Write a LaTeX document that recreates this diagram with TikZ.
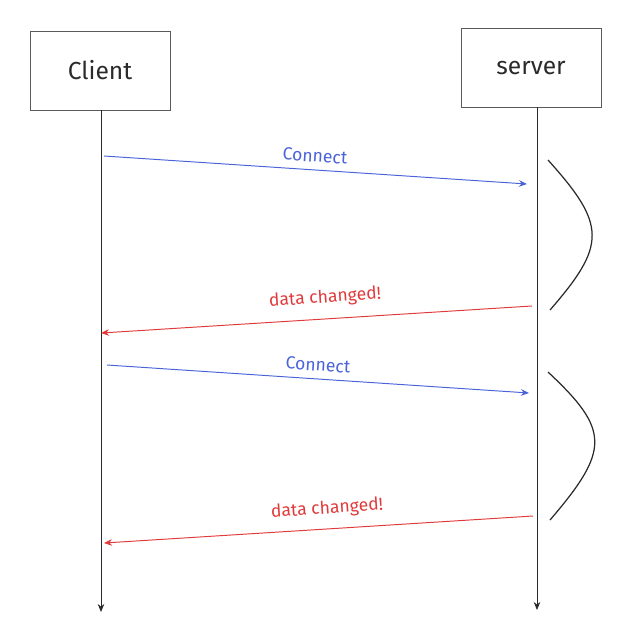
\documentclass[tikz,border=0pt]{standalone}
\usepackage{fontspec}
\setmainfont{Fira Sans}
\usepackage{xcolor}
\usetikzlibrary{arrows.meta,positioning,calc}
\definecolor{ink}{HTML}{2A2A2A}
\definecolor{boxline}{HTML}{5A5A5A}
\definecolor{reqblue}{HTML}{4A63D8}
\definecolor{resred}{HTML}{E03A3A}
\tikzset{
  actorbox/.style={draw=boxline, line width=0.5pt, minimum width=2.8cm, minimum height=1.58cm, font=\fontsize{14}{16}\selectfont, text=ink},
  lifeline/.style={-{Stealth[length=1.6mm,width=1.3mm]}, draw=ink, line width=0.45pt},
  reqarr/.style={-{Stealth[length=1.6mm,width=1.3mm]}, draw=reqblue, line width=0.55pt},
  resarr/.style={-{Stealth[length=1.6mm,width=1.3mm]}, draw=resred, line width=0.55pt},
  reqlabel/.style={text=reqblue, font=\fontsize{10}{12}\selectfont},
  reslabel/.style={text=resred, font=\fontsize{10}{12}\selectfont},
  waitcurve/.style={draw=ink, line width=0.7pt}
}

\begin{document}
\begin{tikzpicture}
  \useasboundingbox (0,0) rectangle (12.88,-12.64);

  % Actors
  \node[actorbox] (client) at (2.0,-1.41) {Client};
  \node[actorbox] (server) at (10.62,-1.36) {server};

  % Lifelines
  \coordinate (cTop) at (2.02,-2.2);
  \coordinate (cEnd) at (2.02,-12.24);
  \coordinate (sTop) at (10.74,-2.14);
  \coordinate (sEnd) at (10.74,-12.2);
  \draw[lifeline] (cTop) -- (cEnd);
  \draw[lifeline] (sTop) -- (sEnd);

  % Message ends
  \coordinate (req1a) at (2.08,-3.12);
  \coordinate (req1b) at (10.54,-3.68);
  \coordinate (res1a) at (10.64,-6.12);
  \coordinate (res1b) at (2.02,-6.66);
  \coordinate (req2a) at (2.14,-7.3);
  \coordinate (req2b) at (10.58,-7.86);
  \coordinate (res2a) at (10.66,-10.32);
  \coordinate (res2b) at (2.08,-10.86);

  \draw[reqarr] (req1a) -- (req1b);
  \draw[resarr] (res1a) -- (res1b);
  \draw[reqarr] (req2a) -- (req2b);
  \draw[resarr] (res2a) -- (res2b);

  \node[reqlabel, rotate=-3.8] (req1) at (6.3,-3.12) {Connect};
  \node[reslabel, rotate=3.8] (res1) at (6.5,-5.96) {data changed!};
  \node[reqlabel, rotate=-3.8] (req2) at (6.36,-7.3) {Connect};
  \node[reslabel, rotate=3.8] (res2) at (6.54,-10.18) {data changed!};

  % Waiting brackets
  \draw[waitcurve] (10.96,-3.2) .. controls (12.13,-4.5) and (12.13,-4.9) .. (11.0,-6.2);
  \draw[waitcurve] (10.96,-7.44) .. controls (12.2,-8.6) and (12.2,-9.0) .. (11.0,-10.4);
\end{tikzpicture}
\end{document}
